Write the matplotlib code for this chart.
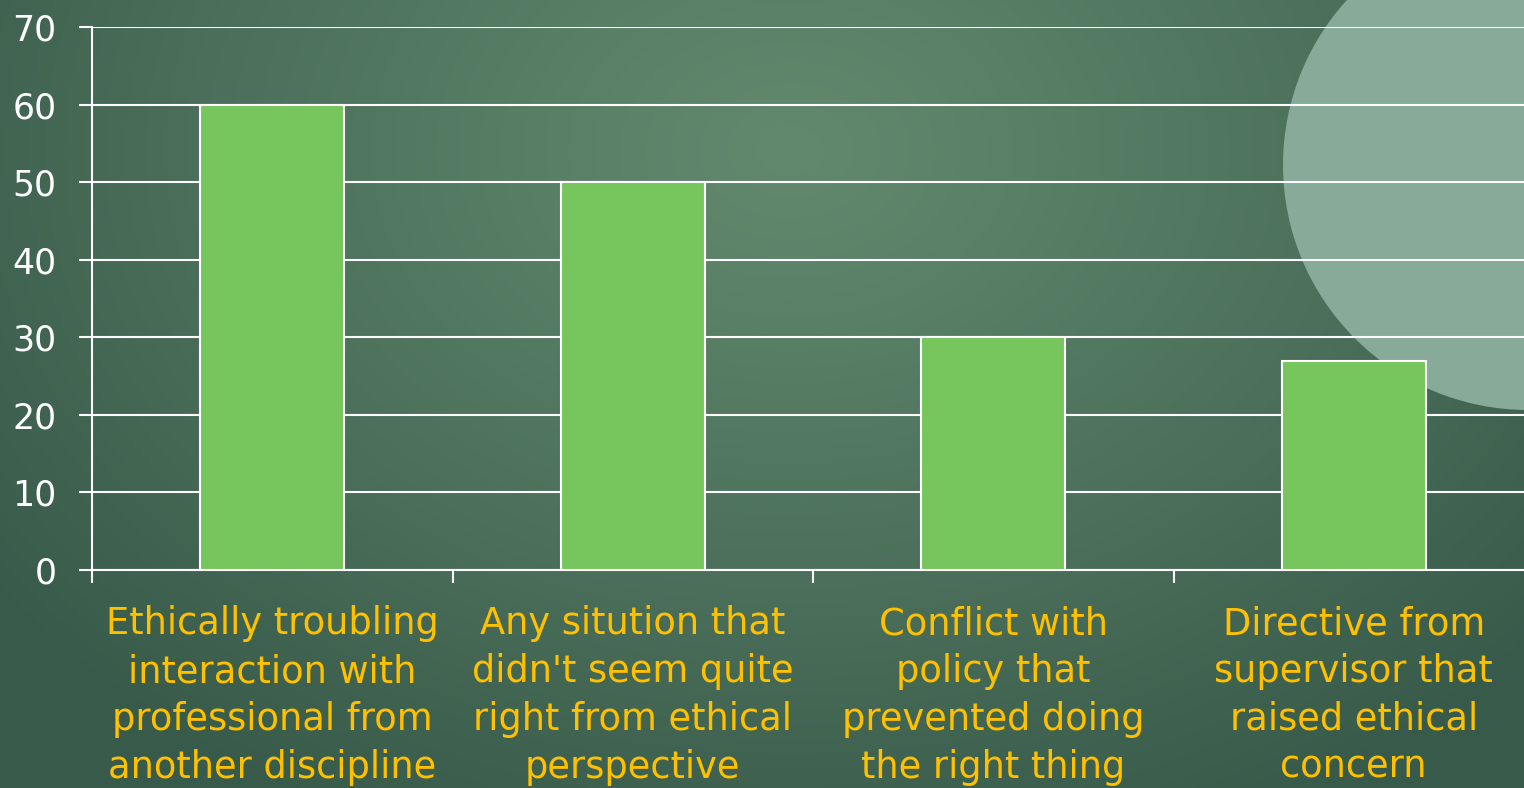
import numpy as np
import matplotlib
matplotlib.use("Agg")
import matplotlib.pyplot as plt
from matplotlib.patches import Circle
from matplotlib.colors import to_rgb

categories = [
    "Ethically troubling\ninteraction with\nprofessional from\nanother discipline",
    "Any sitution that\ndidn't seem quite\nright from ethical\nperspective",
    "Conflict with\npolicy that\nprevented doing\nthe right thing",
    "Directive from\nsupervisor that\nraised ethical\nconcern",
]
values = [60, 50, 30, 27]
yticks = [0, 10, 20, 30, 40, 50, 60, 70]

W, H = 1524, 788
fig = plt.figure(figsize=(W / 100, H / 100), dpi=100)

# background gradient
bg = fig.add_axes([0, 0, 1, 1], zorder=0)
yy, xx = np.mgrid[0:H, 0:W]
d = np.sqrt(((xx - 790) / 1000.0) ** 2 + ((yy - 150) / 750.0) ** 2)
d = np.clip(d, 0, 1)
c_in = np.array(to_rgb("#62896e"))
c_out = np.array(to_rgb("#385a4a"))
t = d[..., None] ** 1.1
img = c_in * (1 - t) + c_out * t
bg.imshow(img, extent=[0, W, H, 0], aspect="auto", interpolation="bilinear")
bg.add_patch(Circle((1528, 165), 245, facecolor="#88aa98", edgecolor="none"))
bg.set_xlim(0, W)
bg.set_ylim(H, 0)
bg.axis("off")

left = 92 / W
bottom = (H - 570) / H
width = 1442 / W
height = (570 - 27) / H
ax = fig.add_axes([left, bottom, width, height], zorder=1)
ax.patch.set_alpha(0)

x = np.arange(len(values))
ax.bar(x, values, width=0.4, color="#77c55d", edgecolor="white", linewidth=1.5, zorder=3)
ax.set_xlim(-0.5, len(values) - 0.5)
ax.set_ylim(0, 70)
ax.set_yticks(yticks)
ax.yaxis.grid(True, color="white", linewidth=1.5, zorder=1)
ax.set_axisbelow(True)

for s in ["top", "right"]:
    ax.spines[s].set_visible(False)
for s in ["left", "bottom"]:
    ax.spines[s].set_color("white")
    ax.spines[s].set_linewidth(1.5)

ax.tick_params(axis="y", colors="white", labelsize=25, length=9.5, width=1.5, pad=16)

ax.set_xticks(x)
ax.set_xticklabels(categories, color="#ffc000", fontsize=26.5, linespacing=1.37)
ax.tick_params(axis="x", length=0, pad=25.5)
ax.set_xticks(np.arange(-0.5, len(values), 1.0), minor=True)
ax.tick_params(axis="x", which="minor", length=9, width=1.5, color="white")

fig.savefig("out.png", dpi=100)
